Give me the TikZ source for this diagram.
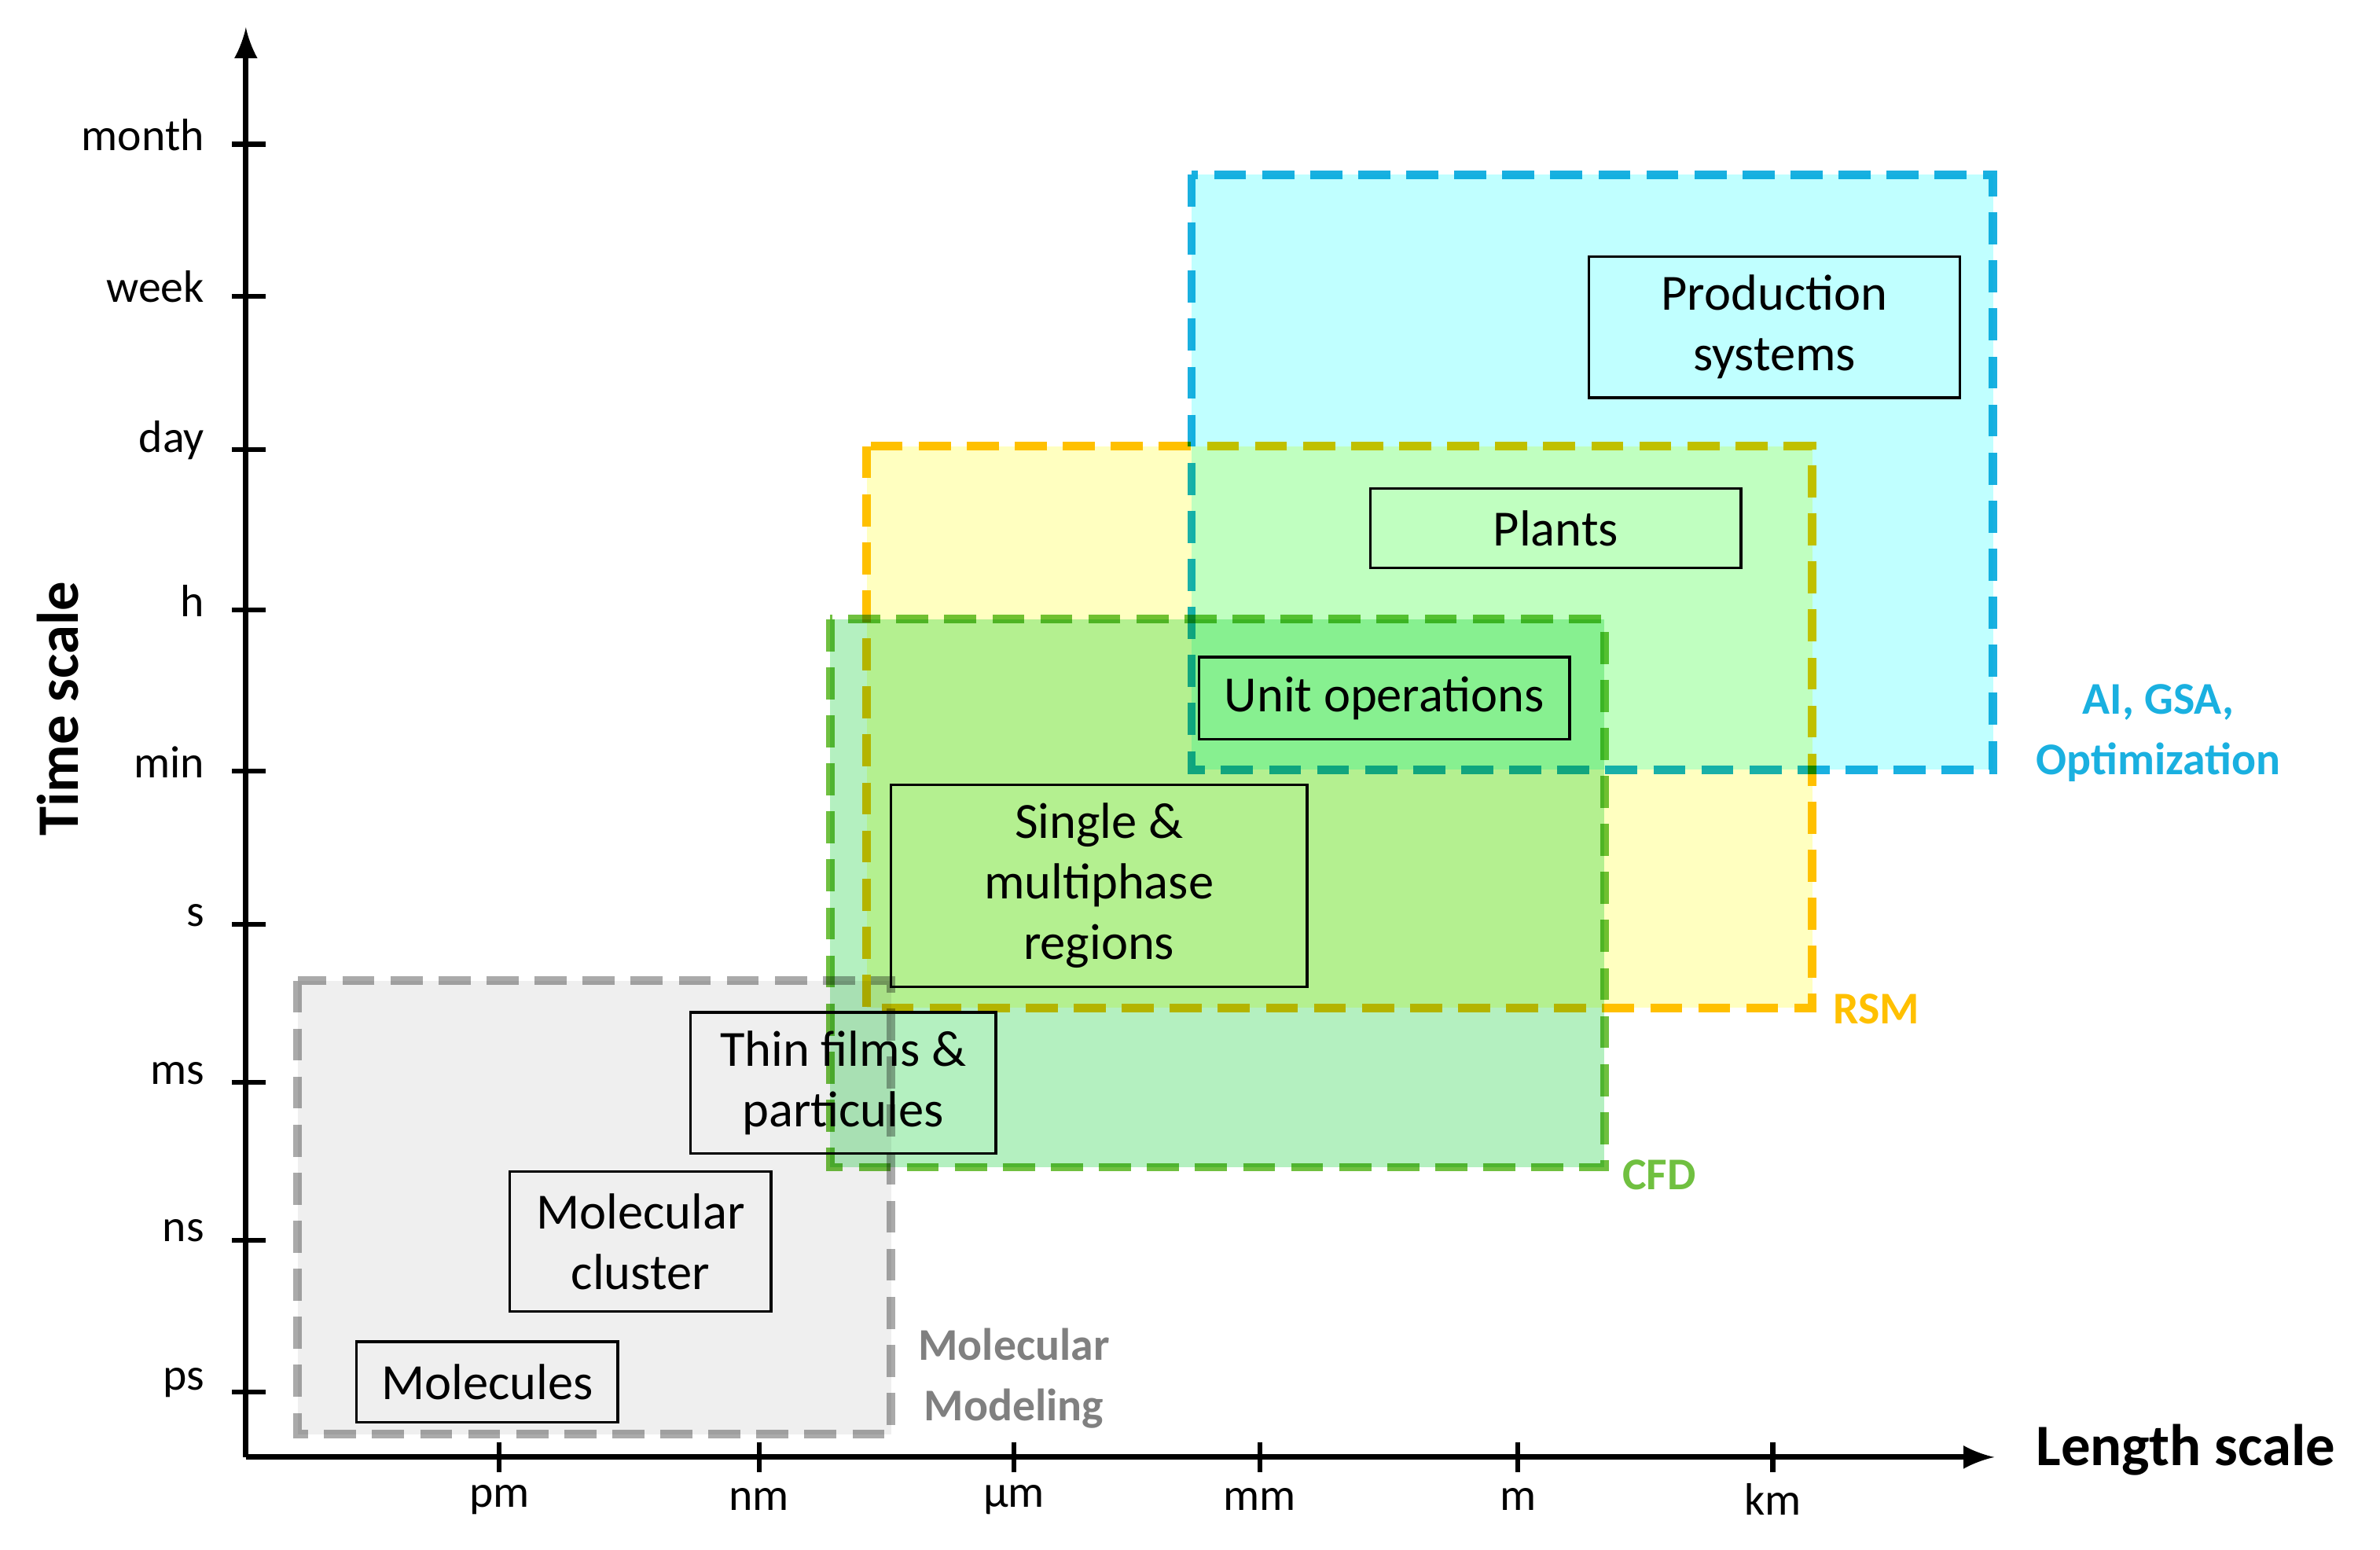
\documentclass[tikz,border=0pt]{standalone}
\usepackage{fontspec}
\setmainfont{Carlito}
\begin{document}
\begin{tikzpicture}[x=0.01cm,y=-0.01cm,
  zone/.style={dashed,line width=1.6pt,dash pattern=on 6pt off 3pt,blend mode=multiply},
  box/.style={draw=black,line width=0.5pt,inner sep=0pt,align=center,font=\fontsize{9.5}{11.3}\selectfont},
  tick/.style={line width=0.9pt},
  ylab/.style={anchor=east,font=\fontsize{8.5}{10}\selectfont},
  xlab/.style={font=\fontsize{8.5}{10}\selectfont},
  zlab/.style={font=\bfseries\fontsize{8.5}{11.3}\selectfont,align=center}]
\useasboundingbox (0,0) rectangle (1568,1021);
\definecolor{cyanf}{HTML}{C0FFFF}\definecolor{cyand}{HTML}{1AB0E0}
\definecolor{yelf}{HTML}{FFFFC0}\definecolor{yeld}{HTML}{FFC000}
\definecolor{grnf}{HTML}{B4F0C0}\definecolor{grnd}{HTML}{70C040}
\definecolor{gryf}{HTML}{EFEFEF}\definecolor{gryd}{HTML}{AAAAAA}
% zones
\draw[zone,fill=gryf,draw=gryd] (196,646) rectangle (587,945);
\draw[zone,fill=cyanf,draw=cyand] (785,115) rectangle (1313,507);
\draw[zone,fill=yelf,draw=yeld] (571,294) rectangle (1194,664);
\draw[zone,fill=grnf,draw=grnd] (547,408) rectangle (1057,769);
% axes
\coordinate (O) at (162,960);
\coordinate (Ytop) at (162,18);
\coordinate (Xend) at (1314,960);
\draw[line width=1pt,-latex] (O) -- (Ytop);
\draw[line width=1pt,-latex] (O) -- (Xend);
\foreach \y/\t in {95/month,195/week,296/day,402/h,508/min,609/s,713/ms,817/ns,917/ps}{
  \draw[tick] (153,\y) -- (175,\y);
  \node[ylab] at (147,\y-6) {\t};}
\foreach \x/\t in {329/pm,500/nm,668/µm,830/mm,1000/m,1168/km}{
  \draw[tick] (\x,950) -- (\x,970);
  \node[xlab] at (\x,988) {\t};}
\node[rotate=90,font=\bfseries\fontsize{11}{13}\selectfont] (ty) at (38,467) {Time scale};
\node[font=\bfseries\fontsize{11}{13}\selectfont] (tx) at (1440,955) {Length scale};
% boxes
\node[box,minimum width=244\pgflinewidth] (ps) at (1169,215.5) [minimum width=2.44cm,minimum height=0.93cm] {Production\\systems};
\node[box,minimum width=2.44cm,minimum height=0.52cm] (pl) at (1025,348) {Plants};
\node[box,minimum width=2.44cm,minimum height=0.54cm] (uo) at (912,460) {Unit operations};
\node[box,minimum width=2.74cm,minimum height=1.33cm] (sm) at (724,583.5) {Single \&\\multiphase\\regions};
\node[box,minimum width=2.01cm,minimum height=0.93cm] (tf) at (555.5,713.5) {Thin films \&\\particules};
\node[box,minimum width=1.72cm,minimum height=0.92cm] (mc) at (422,818) {Molecular\\cluster};
\node[box,minimum width=1.72cm,minimum height=0.53cm] (mo) at (321,910.5) {Molecules};
% zone labels
\node[zlab,text=cyand] (l1) at (1422,483) {AI, GSA,\\Optimization};
\node[zlab,text=yeld] (l2) at (1236,665) {RSM};
\node[zlab,text=grnd] (l3) at (1093,774) {CFD};
\node[zlab,text=gray] (l4) at (668,908) {Molecular\\Modeling};
\end{tikzpicture}
\end{document}
